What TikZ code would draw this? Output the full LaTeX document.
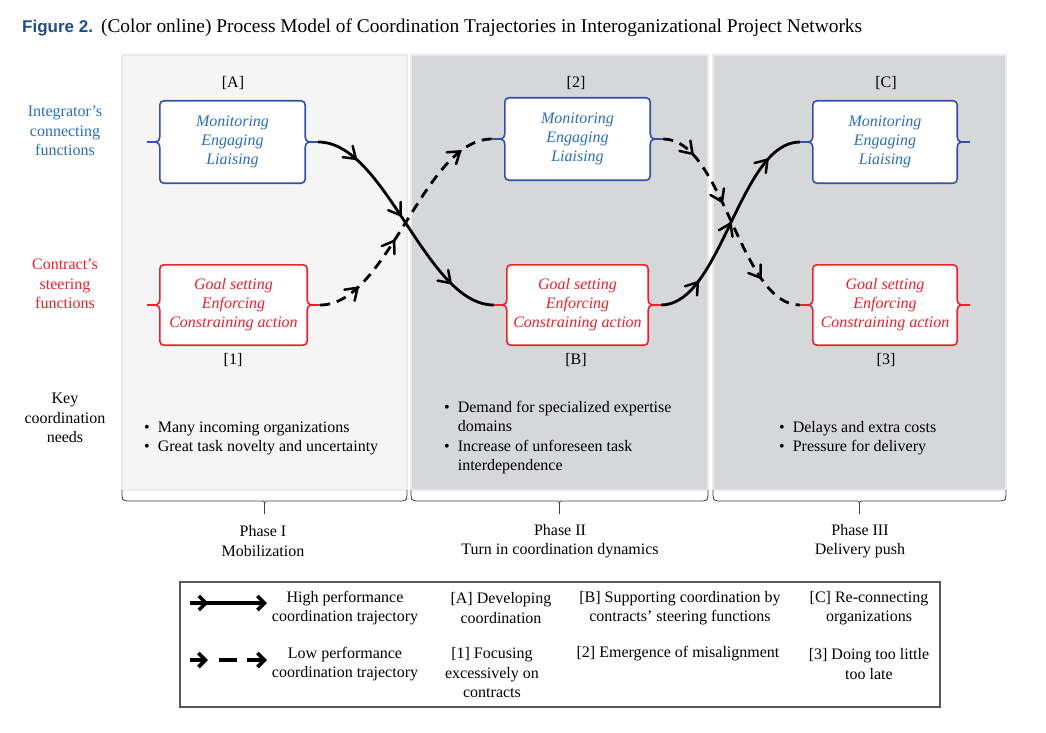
\documentclass[tikz,border=0pt]{standalone}
\usepackage{fontspec}
\setmainfont{Liberation Serif}
\newfontfamily\titlesans{Liberation Sans}
\usetikzlibrary{decorations.markings,arrows.meta,calc}
\definecolor{panelA}{HTML}{F5F5F5}
\definecolor{panelB}{HTML}{D6D7D9}
\definecolor{paneledge}{HTML}{EBEBEB}
\definecolor{bluebox}{HTML}{3550A8}
\definecolor{bluetxt}{HTML}{2B6EBA}
\definecolor{redbox}{HTML}{E8232B}
\definecolor{titleblue}{HTML}{1F4E8C}
\pgfdeclarelayer{bg}
\pgfdeclarelayer{mid}
\pgfsetlayers{bg,mid,main}
\newcommand\mybarb{\draw[solid, line width=2.5pt, line cap=round, line join=miter] (-11pt,7.5pt) -- (0pt,0pt) -- (-11pt,-7.5pt);}
\newcommand\bracebox[2]{%
\begin{pgfonlayer}{mid}
\draw[#2, boxline, fill=white]
 ([yshift=5pt]#1.west) -- ([yshift=-4pt]#1.north west) to[out=90,in=180] ([xshift=4pt]#1.north west)
 -- ([xshift=-4pt]#1.north east) to[out=0,in=90] ([yshift=-4pt]#1.north east)
 -- ([yshift=5pt]#1.east) to[out=-90,in=180] ([xshift=4pt]#1.east) to[out=180,in=90] ([yshift=-5pt]#1.east)
 -- ([yshift=4pt]#1.south east) to[out=-90,in=0] ([xshift=-4pt]#1.south east)
 -- ([xshift=4pt]#1.south west) to[out=180,in=-90] ([yshift=4pt]#1.south west)
 -- ([yshift=-5pt]#1.west) to[out=90,in=0] ([xshift=-4pt]#1.west) to[out=0,in=-90] ([yshift=5pt]#1.west) -- cycle;
\end{pgfonlayer}
\coordinate (#1-r) at ([xshift=13pt]#1.east);
\coordinate (#1-l) at ([xshift=-13pt]#1.west);
\draw[#2, boxline] ([xshift=4pt]#1.east) -- (#1-r);
\draw[#2, boxline] ([xshift=-4pt]#1.west) -- (#1-l);
}
\tikzset{
 boxline/.style={line width=1.6pt},
 boxtxt/.style={inner sep=0pt, align=center, font=\fontsize{16}{19}\selectfont\itshape},
 bluebx/.style={boxtxt, text=bluetxt},
 redbx/.style={boxtxt, text=redbox},
 traj/.style={line width=2.8pt, black},
 lowtraj/.style={traj, dash pattern=on 10pt off 7pt},
 three marks/.style n args={3}{postaction={decorate}, decoration={markings,
   mark=at position #1 with {\mybarb}, mark=at position #2 with {\mybarb}, mark=at position #3 with {\mybarb}}},
 phasebrace/.style={line width=0.8pt, black!75},
 plain/.style={inner sep=0pt, align=center},
 legline/.style={line width=3.6pt, black},
}
\begin{document}
\begin{tikzpicture}[x=1pt,y=-1pt, font=\fontsize{16}{19.5}\selectfont]
\useasboundingbox (0,0) rectangle (1046,733);

% panels
\begin{pgfonlayer}{bg}
\fill[white] (0,0) rectangle (1046,733);
\draw[fill=panelA, draw=paneledge, line width=1.2pt] (122,55) rectangle (407,490);
\draw[fill=panelB, draw=paneledge, line width=1.2pt] (411,55) rectangle (708,490);
\draw[fill=panelB, draw=paneledge, line width=1.2pt] (713,55) rectangle (1006,490);
\end{pgfonlayer}

% title
\node[anchor=base west, inner sep=0pt] (title) at (22,33)
 {{\titlesans\bfseries\fontsize{17}{20}\selectfont\color{titleblue}Figure 2.}\hspace{8pt}{\fontsize{19.4}{22}\selectfont(Color online) Process Model of Coordination Trajectories in Interoganizational Project Networks}};

% row labels
\node[plain, text=bluetxt] (lint) at (65,131) {Integrator’s\\connecting\\functions};
\node[plain, text=redbox] (lcon) at (65,284) {Contract’s\\steering\\functions};
\node[plain] (lkey) at (65,418) {Key\\coordination\\needs};

% boxes
\node[bluebx, minimum width=145pt, minimum height=82pt] (A) at (232.5,142) {Monitoring\\Engaging\\Liaising};
\node[bluebx, minimum width=145pt, minimum height=82pt] (S2) at (577.5,139) {Monitoring\\Engaging\\Liaising};
\node[bluebx, minimum width=144pt, minimum height=82pt] (C) at (885,142) {Monitoring\\Engaging\\Liaising};
\node[redbx, minimum width=147pt, minimum height=80pt] (S1) at (233.5,305) {Goal setting\\Enforcing\\Constraining action};
\node[redbx, minimum width=141pt, minimum height=80pt] (B) at (577.5,305) {Goal setting\\Enforcing\\Constraining action};
\node[redbx, minimum width=144pt, minimum height=80pt] (S3) at (885,305) {Goal setting\\Enforcing\\Constraining action};
\bracebox{A}{bluebox}
\bracebox{S2}{bluebox}
\bracebox{C}{bluebox}
\bracebox{S1}{redbox}
\bracebox{B}{redbox}
\bracebox{S3}{redbox}

% box labels
\node[plain] (tA) at (233,83) {[A]};
\node[plain] (t2) at (576,83) {[2]};
\node[plain] (tC) at (886,83) {[C]};
\node[plain] (t1) at (233,360) {[1]};
\node[plain] (tB) at (576,360) {[B]};
\node[plain] (t3) at (886,360) {[3]};

% trajectories
\draw[traj, three marks={0.17}{0.46}{0.8}] (A-r) .. controls +(68,0) and +(-68,0) .. (B-l);
\draw[lowtraj, three marks={0.17}{0.41}{0.86}] (S1-r) .. controls +(68,0) and +(-68,0) .. (S2-l);
\draw[traj, three marks={0.2}{0.5}{0.83}] (B-r) .. controls +(60,0) and +(-60,0) .. (C-l);
\draw[lowtraj, three marks={0.15}{0.4}{0.78}] (S2-r) .. controls +(60,0) and +(-60,0) .. (S3-l);

% needs
\node[anchor=base west, inner sep=0pt] (n1) at (144,432)
 {\begin{tabular}[t]{@{}l@{\hspace{8pt}}l@{}}\textbullet & Many incoming organizations\\ \textbullet & Great task novelty and uncertainty\end{tabular}};
\node[anchor=base west, inner sep=0pt] (n2) at (444,412)
 {\begin{tabular}[t]{@{}l@{\hspace{8pt}}l@{}}\textbullet & Demand for specialized expertise\\ & domains\\ \textbullet & Increase of unforeseen task\\ & interdependence\end{tabular}};
\node[anchor=base west, inner sep=0pt] (n3) at (779,432)
 {\begin{tabular}[t]{@{}l@{\hspace{8pt}}l@{}}\textbullet & Delays and extra costs\\ \textbullet & Pressure for delivery\end{tabular}};

% phase braces
\foreach \l/\r in {122/407, 411/708, 713/1006}{
 \pgfmathsetmacro\c{(\l+\r)/2}
 \draw[phasebrace] (\l,490) .. controls (\l,500) .. (\l+5,501) -- (\c-4,501) .. controls (\c,501) .. (\c,506) -- (\c,514);
 \draw[phasebrace] (\c,506) .. controls (\c,501) .. (\c+4,501) -- (\r-5,501) .. controls (\r,500) .. (\r,490);
}
\node[plain] (p1) at (263,541) {Phase I\\Mobilization};
\node[plain] (p2) at (560,541) {Phase II\\Turn in coordination dynamics};
\node[plain] (p3) at (860,541) {Phase III\\Delivery push};

% legend
\draw[line width=1.1pt, black!65] (180,582) rectangle (940,707);
\coordinate (hs) at (190,603);
\coordinate (he) at (267,603);
\draw[legline, postaction={decorate}, decoration={markings, mark=at position 0.24 with {\arrow{Straight Barb[length=7pt,width=14pt]}}}, -{Straight Barb[length=7pt,width=14pt]}] (hs) -- (he);
\coordinate (ls) at (190,660);
\coordinate (la) at (208,660);
\coordinate (lb) at (219,660);
\coordinate (lc) at (237,660);
\coordinate (ld) at (247,660);
\coordinate (le) at (267,660);
\draw[legline, -{Straight Barb[length=7pt,width=14pt]}] (ls) -- (la);
\draw[legline] (lb) -- (lc);
\draw[legline, -{Straight Barb[length=7pt,width=14pt]}] (ld) -- (le);
\node[plain] (lg1) at (345,608) {High performance\\coordination trajectory};
\node[plain] (lg2) at (345,664) {Low performance\\coordination trajectory};
\node[plain] (lg3) at (501,608) {[A] Developing\\coordination};
\node[plain] (lg4) at (492,673) {[1] Focusing\\excessively on\\contracts};
\node[plain] (lg5) at (680,608) {[B] Supporting coordination by\\contracts’ steering functions};
\node[plain] (lg6) at (678,654) {[2] Emergence of misalignment};
\node[plain] (lg7) at (869,608) {[C] Re-connecting\\organizations};
\node[plain] (lg8) at (869,664) {[3] Doing too little\\too late};
\end{tikzpicture}
\end{document}
